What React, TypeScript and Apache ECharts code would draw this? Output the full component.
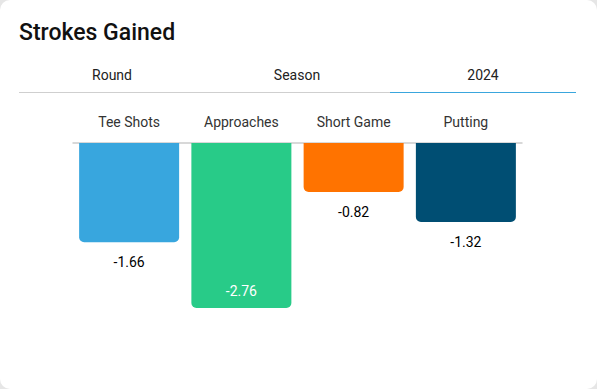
import React, { useEffect, useRef } from "react";
import * as echarts from "echarts";

const categories = ["Tee Shots", "Approaches", "Short Game", "Putting"];
const values = [-1.66, -2.76, -0.82, -1.32];
const colors = ["#38a6de", "#28cb88", "#ff7300", "#004e73"];
const tabs = ["Round", "Season", "2024"];

export default function App() {
  const ref = useRef<HTMLDivElement>(null);
  useEffect(() => {
    document.body.style.margin = "0";
    const chart = echarts.init(ref.current!, null, { renderer: "svg" });
    const F = "Roboto, sans-serif";
    chart.setOption({
      animation: false,
      backgroundColor: "transparent",
      textStyle: { fontFamily: F },
      grid: { left: 73, right: 75, top: 143, height: 179.4 },
      xAxis: {
        type: "category",
        position: "top",
        data: categories,
        axisLine: { lineStyle: { color: "#cccccc", width: 1.5 } },
        axisTick: { show: false },
        axisLabel: { color: "#333", fontSize: 14, margin: 14, fontFamily: F },
      },
      yAxis: {
        type: "value",
        min: -3,
        max: 0,
        show: false,
      },
      series: [
        {
          type: "bar",
          barWidth: 100,
          data: values.map((v, i) => ({
            value: v,
            itemStyle: { color: colors[i], borderRadius: [0, 0, 5, 5] },
            label:
              i === 1
                ? { position: "insideBottom", distance: 10, color: "#fff" }
                : { position: "bottom", distance: 13, color: "#000" },
          })),
          label: {
            show: true,
            fontSize: 14,
            fontWeight: "normal",
            fontFamily: F,
            formatter: (p: any) => p.value.toFixed(2),
          },
        },
      ],
      graphic: [
        {
          type: "text",
          left: 19,
          top: 21,
          style: { text: "Strokes Gained", fontSize: 23, fontWeight: 500, fill: "#111", fontFamily: F },
        },
        ...tabs.map((t, i) => ({
          type: "text",
          x: [112, 297, 483][i],
          y: 75,
          style: { text: t, fontSize: 14, fill: "#222", fontFamily: F, align: "center", verticalAlign: "middle" },
        })),
        { type: "line", shape: { x1: 19, y1: 92.5, x2: 390, y2: 92.5 }, style: { stroke: "#cfcfcf", lineWidth: 1 } },
        { type: "line", shape: { x1: 390, y1: 92.5, x2: 576, y2: 92.5 }, style: { stroke: "#3aa6dd", lineWidth: 1.2 } },
      ],
    });
    return () => chart.dispose();
  }, []);
  return (
    <div style={{ width: 597, height: 389, background: "#e6e6e6" }}>
      <div style={{ width: 597, height: 389, background: "#fff", borderRadius: 10, overflow: "hidden" }}>
        <div ref={ref} style={{ width: 597, height: 389 }} />
      </div>
    </div>
  );
}
